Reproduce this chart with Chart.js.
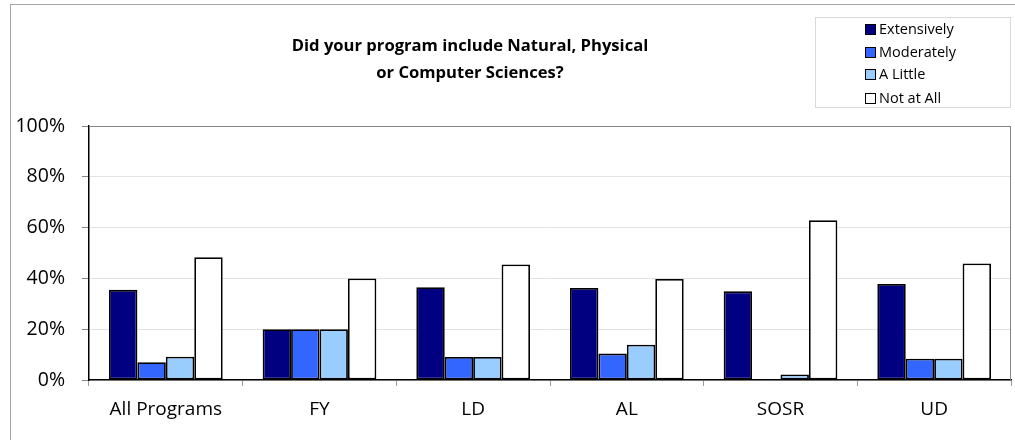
<!DOCTYPE html>
<html>
<head>
<meta charset="utf-8">
<script src="https://cdn.jsdelivr.net/npm/chart.js@4/dist/chart.umd.min.js"></script>
<style>
  html, body { margin: 0; padding: 0; background: #fff; }
  #wrap { position: relative; width: 1015px; height: 440px; overflow: hidden; font-family: "Open Sans", "Noto Sans", sans-serif; }
  #frame { position: absolute; left: 10px; top: 4px; width: 1100px; height: 500px; border-left: 1px solid #a6a6a6; border-top: 1px solid #a6a6a6; }
  canvas { position: absolute; left: 0; top: 0; }
  #title { position: absolute; left: 170px; width: 600px; top: 31px; text-align: center; font-weight: bold; font-size: 16.6px; line-height: 27px; color: #000; }
  #legend { position: absolute; left: 815px; top: 17px; width: 196px; height: 91px; border: 1px solid #d9d9d9; box-sizing: border-box; }
  .item { position: absolute; left: 49px; height: 20px; font-size: 14.5px; line-height: 20px; color: #000; white-space: nowrap; }
  .sw { display: inline-block; width: 9px; height: 9px; border: 1.5px solid #000; vertical-align: -1px; margin-right: 3px; }
</style>
</head>
<body>
<div id="wrap">
  <div id="frame"></div>
  <canvas id="c" width="1015" height="440"></canvas>
  <div id="title">Did your program include Natural, Physical<br>or Computer Sciences?</div>
  <div id="legend"></div>
</div>
<script>
const categories = ['All Programs', 'FY', 'LD', 'AL', 'SOSR', 'UD'];
const seriesNames = ['Extensively', 'Moderately', 'A Little', 'Not at All'];
const extensively = [35.5, 20, 36.5, 36.2, 34.9, 37.8];
const moderately = [7.0, 20, 9.1, 10.4, 0, 8.4];
const aLittle = [9.2, 20, 9.1, 13.9, 2.2, 8.4];
const notAtAll = [48.3, 40, 45.5, 39.8, 62.9, 45.9];
const yTicks = [0, 20, 40, 60, 80, 100];
const colors = ['#000080', '#3366FF', '#99CCFF', '#FFFFFF'];

const seriesValues = [extensively, moderately, aLittle, notAtAll];

// HTML legend
const legend = document.getElementById('legend');
const rowTops = [1, 24, 46, 70];
seriesNames.forEach((name, i) => {
  const d = document.createElement('div');
  d.className = 'item';
  d.style.top = rowTops[i] + 'px';
  d.innerHTML = '<span class="sw" style="background:' + colors[i] + '"></span>' + name;
  legend.appendChild(d);
});

const plotFrame = {
  id: 'plotFrame',
  beforeDatasetsDraw(chart) {
    const { ctx, chartArea: a } = chart;
    ctx.save();
    ctx.strokeStyle = '#868686';
    ctx.lineWidth = 1;
    ctx.beginPath();
    ctx.moveTo(a.left, a.top + 0.5);
    ctx.lineTo(a.right - 0.5, a.top + 0.5);
    ctx.lineTo(a.right - 0.5, a.bottom);
    ctx.stroke();
    ctx.restore();
  }
};

new Chart(document.getElementById('c'), {
  type: 'bar',
  data: {
    labels: categories,
    datasets: seriesNames.map((n, i) => ({
      label: n,
      data: seriesValues[i],
      backgroundColor: colors[i],
      borderColor: '#000',
      borderWidth: ctx => (ctx.raw === 0 ? 0 : 1.8),
      borderSkipped: false,
      categoryPercentage: 0.74,
      barPercentage: 1.0
    }))
  },
  options: {
    responsive: false,
    animation: false,
    layout: { padding: { top: 126, right: 4, left: 0, bottom: 0 } },
    plugins: { legend: { display: false }, title: { display: false }, tooltip: { enabled: false } },
    scales: {
      x: {
        offset: true,
        grid: { offset: true, drawOnChartArea: false, tickLength: 6, tickColor: '#999' },
        border: { color: '#000', width: 1.5 },
        ticks: { color: '#000', font: { family: 'Open Sans', size: 19 }, padding: 12, maxRotation: 0 },
        afterFit: s => { s.height = 60; }
      },
      y: {
        min: 0, max: 100,
        afterBuildTicks: s => { s.ticks = yTicks.map(v => ({ value: v })); },
        grid: { color: ctx => (ctx.tick && ctx.tick.value === 100 ? '#868686' : '#e3e3e3'), tickLength: 7, tickColor: '#868686' },
        border: { color: '#000', width: 1.5 },
        ticks: { color: '#000', font: { family: 'Open Sans', size: 19.5 }, padding: 17, callback: v => v + '%' },
        afterFit: s => { s.width = 89; }
      }
    }
  },
  plugins: [plotFrame]
});
</script>
</body>
</html>
